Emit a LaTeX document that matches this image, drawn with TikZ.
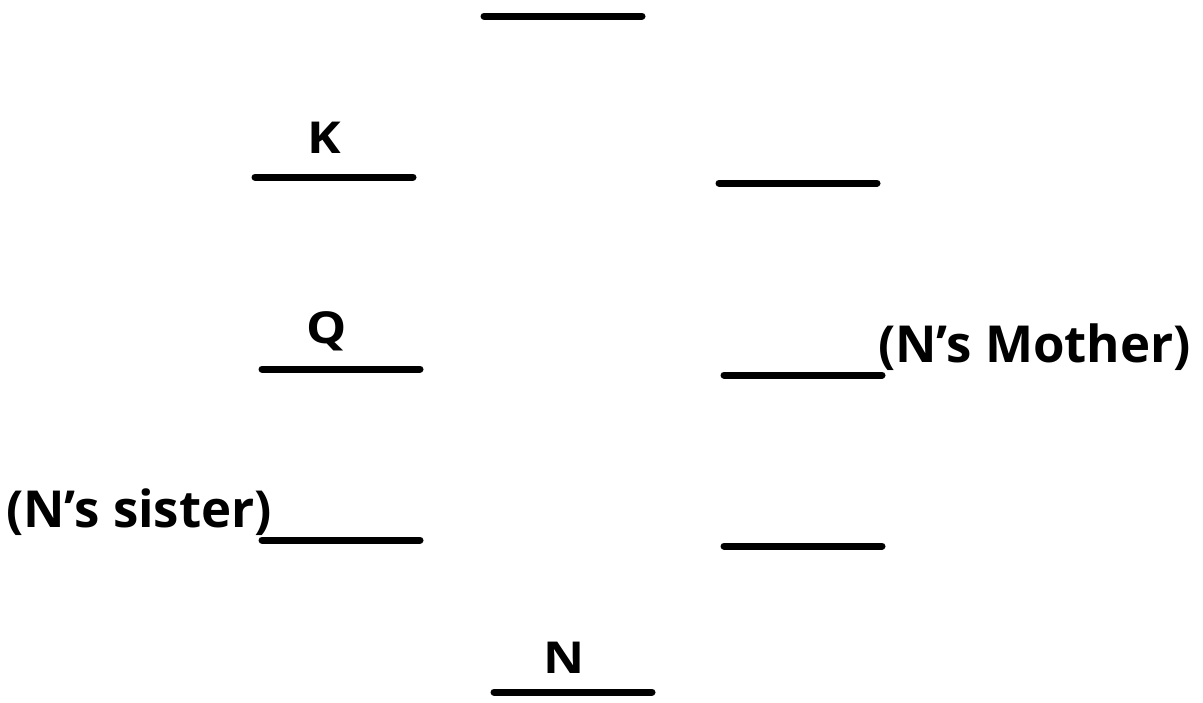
\documentclass[tikz,border=0pt]{standalone}
\usepackage{fontspec}
\setmainfont{Open Sans}
\begin{document}
\begin{tikzpicture}[x=1pt,y=-1pt,
  blank/.style={line width=7pt,line cap=round},
  lab/.style={font=\fontsize{51}{51}\selectfont\bfseries,inner sep=0pt},
  letter/.style={font=\fontsize{44}{44}\selectfont\bfseries,inner sep=0pt,xscale=1.15}]
\useasboundingbox[fill=white] (0,0) rectangle (1203,702);
\coordinate (t1) at (484,16); \coordinate (t2) at (642,16);
\coordinate (k1) at (255,177); \coordinate (k2) at (413,177);
\coordinate (r11) at (719,183); \coordinate (r12) at (877,183);
\coordinate (q1) at (262,369); \coordinate (q2) at (420,369);
\coordinate (r21) at (724,375); \coordinate (r22) at (882,375);
\coordinate (s1) at (262,540); \coordinate (s2) at (420,540);
\coordinate (r31) at (724,546); \coordinate (r32) at (882,546);
\coordinate (n1) at (494,692); \coordinate (n2) at (652,692);
\draw[blank] (t1) -- (t2);
\draw[blank] (k1) -- (k2);
\draw[blank] (r11) -- (r12);
\draw[blank] (q1) -- (q2);
\draw[blank] (r21) -- (r22);
\draw[blank] (s1) -- (s2);
\draw[blank] (r31) -- (r32);
\draw[blank] (n1) -- (n2);
\node[letter,anchor=base] (K) at (324,153) {K};
\node[letter,anchor=base] (Q) at (327,343) {Q};
\node[letter,anchor=base] (N) at (564,673) {N};
\node[lab,anchor=base west] (mother) at (878,362) {(N’s Mother)};
\node[lab,anchor=base west] (sister) at (6,527) {(N’s sister)};
\end{tikzpicture}
\end{document}
